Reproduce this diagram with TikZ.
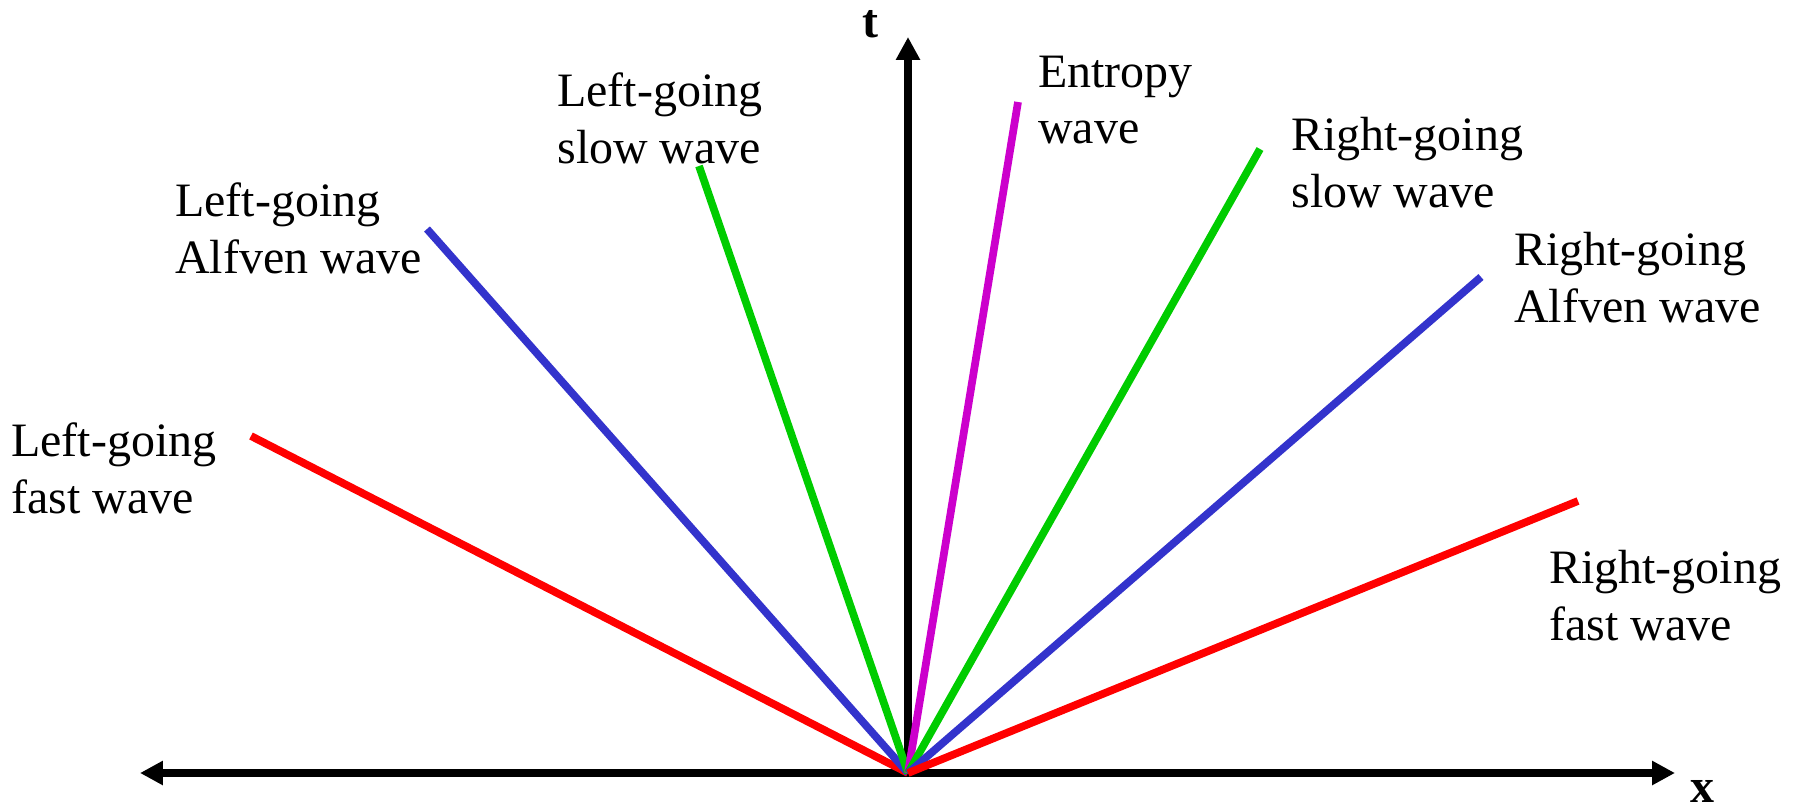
\documentclass[tikz,border=0pt]{standalone}
\usepackage{fontspec}
\setmainfont{Liberation Serif}
\usetikzlibrary{arrows.meta}

\definecolor{fastred}{RGB}{255,0,0}
\definecolor{alfvenblue}{RGB}{51,51,204}
\definecolor{slowgreen}{RGB}{0,204,0}
\definecolor{entropymag}{RGB}{204,0,204}

\begin{document}
\begin{tikzpicture}[
        x=0.02cm, y=-0.02cm,
        axis/.style={line width=4.7pt, {Triangle[length=13pt,width=13pt]}-{Triangle[length=13pt,width=13pt]}},
        wave/.style={line width=4.4pt},
        wavetext/.style={anchor=west, align=left, inner sep=0pt, font=\fontsize{27.3}{32.4}\selectfont},
        axistext/.style={inner sep=0pt, font=\fontsize{27.3}{32.4}\selectfont\bfseries}
    ]
        \useasboundingbox (0,0) rectangle (1796,808);

        % Axes
        \coordinate (o) at (908,773);
        \coordinate (xl) at (140,773);
        \coordinate (xr) at (1675,773);
        \coordinate (tt) at (908,37);
        \draw[axis] (xl) -- (xr);
        \draw[axis, -{Triangle[length=13pt,width=13pt]}] (o) -- (tt);
        \node[axistext] (tlab) at (870,24) {t};
        \node[axistext] (xlab) at (1702,791) {x};

        % Wave ends
        \coordinate (lfast) at (251,436);
        \coordinate (lalf) at (427,229);
        \coordinate (lslow) at (699,166);
        \coordinate (ent) at (1018,102);
        \coordinate (rslow) at (1260,149);
        \coordinate (ralf) at (1481,277);
        \coordinate (rfast) at (1578,501);

        \draw[wave, fastred] (o) -- (lfast);
        \draw[wave, alfvenblue] (o) -- (lalf);
        \draw[wave, slowgreen] (o) -- (lslow);
        \draw[wave, entropymag] (o) -- (ent);
        \draw[wave, slowgreen] (o) -- (rslow);
        \draw[wave, alfvenblue] (o) -- (ralf);
        \draw[wave, fastred] (o) -- (rfast);

        % Labels
        \node[wavetext] (lfastlab) at (11,468) {Left-going\\fast wave};
        \node[wavetext] (lalflab) at (175,228) {Left-going\\Alfven wave};
        \node[wavetext] (lslowlab) at (557,118) {Left-going\\slow wave};
        \node[wavetext] (entlab) at (1038,100) {Entropy\\wave};
        \node[wavetext] (rslowlab) at (1291,163) {Right-going\\slow wave};
        \node[wavetext] (ralflab) at (1514,278) {Right-going\\Alfven wave};
        \node[wavetext] (rfastlab) at (1549,596) {Right-going\\fast wave};
    \end{tikzpicture}
\end{document}
